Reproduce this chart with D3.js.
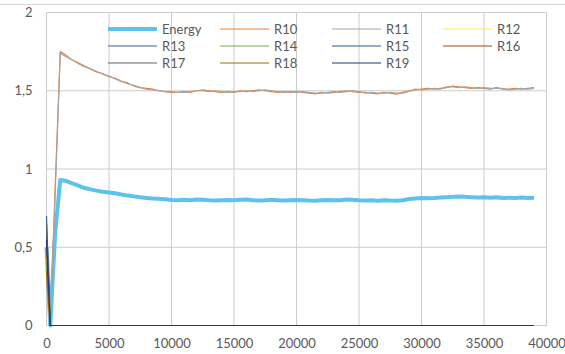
<!DOCTYPE html>
<html lang="en">
<head>
	<meta charset="utf-8">
	<title>Energy and R series</title>
	<script src="https://d3js.org/d3.v7.min.js"></script>
	<style type="text/css">
		body { margin: 0; background: #fff; }
		.axis path, .axis line { display: none; }
		.axis text {
			font-family: Lato, "Open Sans", sans-serif;
			font-size: 13px;
			fill: #595959;
		}
		.legend text {
			font-family: Lato, "Open Sans", sans-serif;
			font-size: 13px;
			fill: #595959;
		}
	</style>
</head>
<body>
<script type="text/javascript">

// x values of the sampled curves
var steps = [0, 300, 700, 1100,
	1500, 2000, 2500, 3000, 3500, 4000, 4500, 5000, 5500, 6000, 6500, 7000, 7500, 8000, 8500, 9000, 9500,
	10000, 10500, 11000, 11500, 12000, 12500, 13000, 13500, 14000, 14500, 15000, 15500, 16000, 16500, 17000, 17500,
	18000, 18500, 19000, 19500, 20000, 20500, 21000, 21500, 22000, 22500, 23000, 23500, 24000, 24500, 25000, 25500,
	26000, 26500, 27000, 27500, 28000, 28500, 29000, 29500, 30000, 30500, 31000, 31500, 32000, 32500, 33000, 33500,
	34000, 34500, 35000, 35500, 36000, 36500, 37000, 37500, 38000, 38500, 39000];

var energy = [0.5, 0.0, 0.6, 0.93,
	0.925, 0.91, 0.895, 0.88, 0.87, 0.862, 0.855, 0.85, 0.845, 0.837, 0.83, 0.825, 0.82, 0.815, 0.812, 0.81, 0.806,
	0.802, 0.8, 0.803, 0.8, 0.805, 0.803, 0.8, 0.798, 0.8, 0.802, 0.8, 0.803, 0.805, 0.8, 0.798, 0.8,
	0.803, 0.8, 0.798, 0.8, 0.802, 0.8, 0.798, 0.797, 0.8, 0.802, 0.8, 0.8, 0.805, 0.803, 0.8, 0.798,
	0.8, 0.797, 0.8, 0.798, 0.797, 0.8, 0.808, 0.812, 0.815, 0.813, 0.815, 0.818, 0.82, 0.822, 0.825, 0.822,
	0.82, 0.818, 0.82, 0.817, 0.82, 0.815, 0.817, 0.815, 0.818, 0.815, 0.817];

var r10 = [0.3, 0.0, 0.9, 1.75,
	1.73, 1.7, 1.68, 1.66, 1.64, 1.62, 1.61, 1.59, 1.58, 1.56, 1.55, 1.53, 1.52, 1.515, 1.51, 1.5, 1.495,
	1.49, 1.49, 1.495, 1.49, 1.5, 1.505, 1.5, 1.495, 1.49, 1.495, 1.49, 1.5, 1.495, 1.5, 1.505, 1.5,
	1.495, 1.49, 1.495, 1.49, 1.495, 1.49, 1.485, 1.48, 1.49, 1.485, 1.49, 1.495, 1.5, 1.495, 1.49, 1.49,
	1.485, 1.48, 1.49, 1.485, 1.478, 1.49, 1.5, 1.505, 1.51, 1.515, 1.51, 1.515, 1.52, 1.53, 1.525, 1.52,
	1.515, 1.52, 1.515, 1.51, 1.52, 1.51, 1.51, 1.515, 1.51, 1.515, 1.52];

var r11 = [0.28, 0.0, 0.85, 1.74,
	1.72, 1.7, 1.675, 1.655, 1.64, 1.625, 1.605, 1.595, 1.575, 1.56, 1.545, 1.535, 1.52, 1.51, 1.505, 1.5, 1.495,
	1.495, 1.49, 1.49, 1.495, 1.5, 1.5, 1.495, 1.5, 1.495, 1.49, 1.495, 1.495, 1.5, 1.495, 1.5, 1.505,
	1.5, 1.495, 1.49, 1.495, 1.49, 1.495, 1.49, 1.485, 1.485, 1.49, 1.495, 1.49, 1.495, 1.5, 1.495, 1.485,
	1.49, 1.485, 1.485, 1.49, 1.485, 1.485, 1.495, 1.51, 1.505, 1.51, 1.515, 1.51, 1.525, 1.525, 1.52, 1.525,
	1.52, 1.515, 1.52, 1.515, 1.515, 1.515, 1.505, 1.51, 1.515, 1.51, 1.515];

// series that sit on zero after the first few hundred steps
var flatSteps = [0, 300, 39000];
var r12 = [0.45, 0, 0];
var r13 = [0.7, 0, 0];
var r14 = [0.4, 0, 0];
var r15 = [0.6, 0, 0];
var r16 = [0.5, 0, 0];
var r17 = [0.65, 0, 0];
var r18 = [0.35, 0, 0];
var r19 = [0.55, 0, 0];

var xTicks = [0, 5000, 10000, 15000, 20000, 25000, 30000, 35000, 40000];
var yTicks = [0, 0.5, 1, 1.5, 2];

// legend order (4 columns x 3 rows)
var names = ["Energy", "R10", "R11", "R12", "R13", "R14", "R15", "R16", "R17", "R18", "R19"];
var colors = ["#5cc2ee", "#ed7d31", "#a5a5a5", "#ffe84d", "#3d5f9a", "#70ad47", "#255e91",
	"#9e480e", "#636363", "#997300", "#1f3a7a"];

var series = [
	{name: "Energy", xs: steps, ys: energy},
	{name: "R10", xs: steps, ys: r10},
	{name: "R11", xs: steps, ys: r11},
	{name: "R12", xs: flatSteps, ys: r12},
	{name: "R13", xs: flatSteps, ys: r13},
	{name: "R14", xs: flatSteps, ys: r14},
	{name: "R15", xs: flatSteps, ys: r15},
	{name: "R16", xs: flatSteps, ys: r16},
	{name: "R17", xs: flatSteps, ys: r17},
	{name: "R18", xs: flatSteps, ys: r18},
	{name: "R19", xs: flatSteps, ys: r19}
];

var width = 565;
var height = 354;

var svg = d3.select("body")
	.append("svg")
	.attr("width", width)
	.attr("height", height);

//Create scale functions
var xScale = d3.scaleLinear().domain([0, 40000]).range([46.5, 546.5]);
var yScale = d3.scaleLinear().domain([0, 2]).range([325.5, 12.5]);

// outer chart border (top edge only shows)
svg.append("line")
	.attr("x1", 0).attr("x2", width)
	.attr("y1", 4.5).attr("y2", 4.5)
	.attr("stroke", "#d9d9d9");

// gridlines
svg.append("g").selectAll("line")
	.data(yTicks)
	.enter().append("line")
	.attr("x1", xScale(0)).attr("x2", xScale(40000))
	.attr("y1", function(d) { return yScale(d); })
	.attr("y2", function(d) { return yScale(d); })
	.attr("stroke", "#cccccc");

svg.append("g").selectAll("line")
	.data(xTicks)
	.enter().append("line")
	.attr("x1", function(d) { return xScale(d); })
	.attr("x2", function(d) { return xScale(d); })
	.attr("y1", yScale(0)).attr("y2", yScale(2))
	.attr("stroke", "#cccccc");

// axes (labels only)
var xAxis = d3.axisBottom(xScale).tickValues(xTicks).tickSize(0).tickPadding(13)
	.tickFormat(function(d) { return String(d); });
svg.append("g")
	.attr("class", "axis")
	.attr("transform", "translate(0," + yScale(0) + ")")
	.call(xAxis);

var yAxis = d3.axisLeft(yScale).tickValues(yTicks).tickSize(0).tickPadding(14)
	.tickFormat(function(d) { return String(d).replace(".", ","); });
svg.append("g")
	.attr("class", "axis")
	.attr("transform", "translate(" + xScale(0) + ",0)")
	.call(yAxis);

// lines
var line = d3.line()
	.x(function(d) { return xScale(d[0]); })
	.y(function(d) { return yScale(d[1]); });

series.forEach(function(s, i) {
	var pts = s.xs.map(function(x, j) { return [x, s.ys[j]]; });
	svg.append("path")
		.datum(pts)
		.attr("fill", "none")
		.attr("stroke", colors[i])
		.attr("stroke-width", i === 0 ? 4 : 1.2)
		.attr("stroke-linejoin", "round")
		.attr("d", line);
});

// legend
var legend = svg.append("g").attr("class", "legend");
var colX = [108, 220, 332, 443];
var rowY = [29, 46, 63];

names.forEach(function(n, i) {
	var c = i % 4, r = Math.floor(i / 4);
	var g = legend.append("g")
		.attr("transform", "translate(" + colX[c] + "," + rowY[r] + ")");
	g.append("line")
		.attr("x1", 0).attr("x2", 49)
		.attr("y1", 0).attr("y2", 0)
		.attr("stroke", colors[i])
		.attr("stroke-width", i === 0 ? 4 : 1.2);
	g.append("text")
		.attr("x", 54)
		.attr("y", 0)
		.attr("dy", "0.35em")
		.text(n);
});

</script>
</body>
</html>
